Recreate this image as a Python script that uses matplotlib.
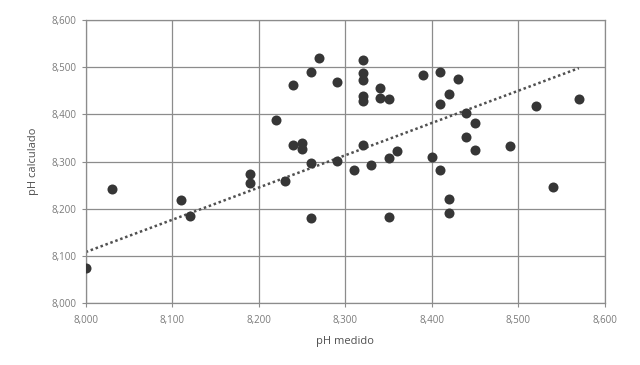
import numpy as np
import matplotlib.pyplot as plt
from matplotlib.ticker import FuncFormatter, MultipleLocator

plt.rcParams['font.family'] = ['Open Sans', 'DejaVu Sans']

# pH medido (x) and pH calculado (y)
ph_medido = [8.000, 8.030, 8.110, 8.120, 8.190, 8.190, 8.220, 8.230, 8.240, 8.240,
             8.250, 8.250, 8.260, 8.260, 8.260, 8.270, 8.290, 8.290, 8.310, 8.320,
             8.320, 8.320, 8.320, 8.320, 8.320, 8.330, 8.340, 8.340, 8.350, 8.350,
             8.350, 8.360, 8.390, 8.400, 8.410, 8.410, 8.410, 8.420, 8.420, 8.420,
             8.430, 8.440, 8.440, 8.450, 8.450, 8.490, 8.520, 8.540, 8.570]
ph_calculado = [8.074, 8.241, 8.218, 8.184, 8.273, 8.254, 8.388, 8.259, 8.463, 8.335,
                8.339, 8.326, 8.489, 8.296, 8.180, 8.519, 8.468, 8.302, 8.282, 8.515,
                8.487, 8.473, 8.439, 8.429, 8.334, 8.293, 8.456, 8.434, 8.432, 8.308,
                8.182, 8.323, 8.483, 8.309, 8.490, 8.422, 8.282, 8.443, 8.220, 8.191,
                8.476, 8.402, 8.351, 8.381, 8.324, 8.333, 8.417, 8.246, 8.433]

# trend line as drawn in the original (ends)
trend_x = [8.000, 8.570]
trend_y = [8.108, 8.498]

fig = plt.figure(figsize=(6.4, 3.65), dpi=100)
ax = fig.add_axes([0.134, 0.170, 0.811, 0.775])

ax.scatter(ph_medido, ph_calculado, s=52, color='#363636', zorder=3, linewidths=0)
ax.plot(trend_x, trend_y, linestyle=(0, (1, 1.1)), color='#505050', linewidth=1.8, zorder=2)

ax.set_xlim(8.0, 8.6)
ax.set_ylim(8.0, 8.6)
ax.xaxis.set_major_locator(MultipleLocator(0.1))
ax.yaxis.set_major_locator(MultipleLocator(0.1))
fmt = FuncFormatter(lambda v, p: f'{v:.3f}'.replace('.', ','))
ax.xaxis.set_major_formatter(fmt)
ax.yaxis.set_major_formatter(fmt)

ax.grid(True, color='#8c8c8c', linewidth=0.9)
ax.set_axisbelow(True)
for s in ax.spines.values():
    s.set_color('#8c8c8c')
    s.set_linewidth(0.9)
ax.tick_params(colors='#8c8c8c', labelcolor='#7a7a7a', labelsize=7, length=3, width=0.8)
ax.tick_params(axis='x', pad=6)

ax.set_xlabel('pH medido', fontsize=8, color='#505050', labelpad=7)
ax.set_ylabel('pH calculado', fontsize=8, color='#505050', labelpad=9)

plt.savefig('out.png', dpi=100)
